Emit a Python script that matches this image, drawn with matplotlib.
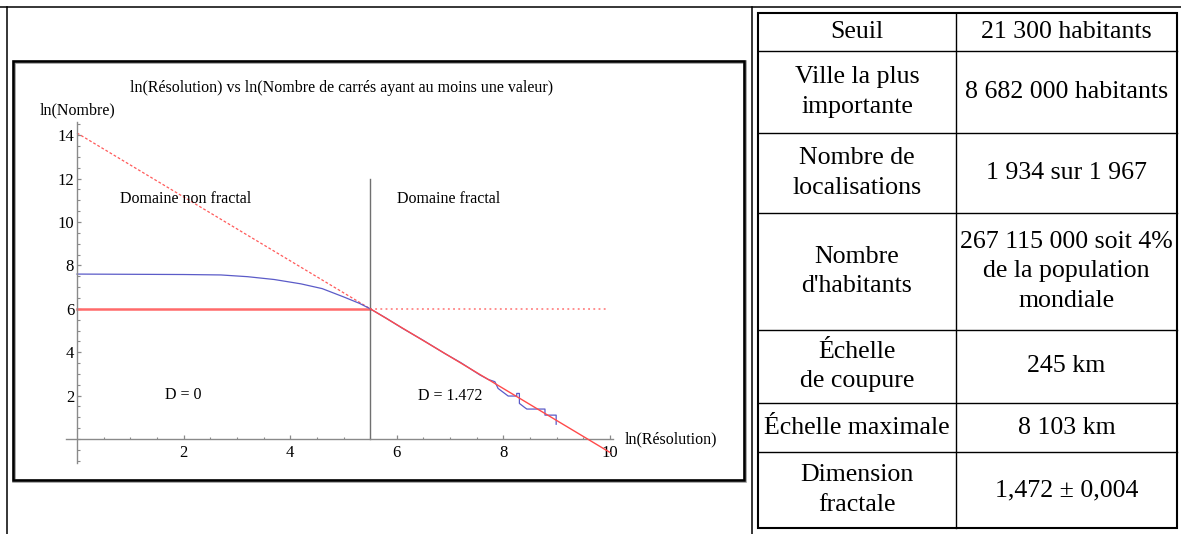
"""Box-counting plot (ln resolution vs ln count) with the summary table on the right."""

import matplotlib.pyplot as plt
import numpy as np
from matplotlib.patches import Rectangle

plt.rcParams["font.family"] = ["Liberation Serif", "DejaVu Serif"]

W, H = 1181, 534

# measured curve: ln(resolution) -> ln(number of occupied squares)
LN_RES = [0.0, 1.0, 2.0, 2.7, 3.2, 3.7, 4.2, 4.6, 5.0, 5.3, 5.5,
          5.8, 6.1, 6.5, 6.9, 7.2, 7.56, 7.72, 7.84, 7.9, 8.09,
          8.25, 8.25, 8.30, 8.30, 8.40, 8.44, 8.78, 8.78, 8.99, 8.99]
LN_COUNT = [7.60, 7.59, 7.58, 7.56, 7.48, 7.35, 7.15, 6.93, 6.55, 6.25, 6.00,
            5.57, 5.11, 4.54, 3.94, 3.52, 2.95, 2.74, 2.64, 2.33, 1.98,
            1.98, 2.10, 2.10, 1.64, 1.45, 1.38, 1.38, 1.10, 1.10, 0.68]

FIT_INTERCEPT = 14.1
FIT_SLOPE = 1.472
CUT_LN = 5.5        # ln(245 km)
END_LN = 10.0
PLATEAU_END = 9.96

ANNOTATIONS = [
    ("Domaine non fractal", 2.03, 11.06),
    ("Domaine fractal", 6.98, 11.06),
    ("D = 0", 2.0, 2.03),
    ("D = 1.472", 7.0, 2.0),
]

TABLE_LEFT = ["Seuil", "Ville la plus\nimportante", "Nombre de\nlocalisations",
              "Nombre\nd'habitants", "Échelle\nde coupure", "Échelle maximale",
              "Dimension\nfractale"]
TABLE_RIGHT = ["21 300 habitants", "8 682 000 habitants", "1 934 sur 1 967",
               "267 115 000 soit 4%\nde la population\nmondiale", "245 km",
               "8 103 km", "1,472 ± 0,004"]

# layout (pixels)
ROW_EDGES = [13, 51, 133, 213, 330, 403, 452, 528]
COL_EDGES = [758, 956, 1177]
X0_PX, X_SCALE = 77.0, 53.3
Y0_PX, Y_SCALE = 439.0, 21.7
XLIM = (-0.25, 10.2)
YLIM = (-1.2, 14.7)


def fit(x):
    return FIT_INTERCEPT - FIT_SLOPE * np.asarray(x, dtype=float)


fig = plt.figure(figsize=(W / 100, H / 100), dpi=100)
canvas = fig.add_axes([0, 0, 1, 1])
canvas.set_xlim(0, W)
canvas.set_ylim(H, 0)
canvas.set_axis_off()

# page lines
lw_page = 1.1
canvas.plot([0, W], [7, 7], color="black", lw=lw_page)
canvas.plot([6.5, 6.5], [7, H], color="black", lw=lw_page)
canvas.plot([752, 752], [7, H], color="black", lw=lw_page)

# chart frame
canvas.add_patch(Rectangle((14, 62), 731, 419, fill=False, edgecolor="#999999", lw=2.6))
canvas.add_patch(Rectangle((13, 61), 731, 419, fill=False, edgecolor="black", lw=1.8))

# table
canvas.add_patch(Rectangle((COL_EDGES[0], ROW_EDGES[0]), COL_EDGES[-1] - COL_EDGES[0],
                           ROW_EDGES[-1] - ROW_EDGES[0], fill=False,
                           edgecolor="black", lw=1.5))
for y in ROW_EDGES[1:-1]:
    canvas.plot([COL_EDGES[0], COL_EDGES[-1]], [y, y], color="black", lw=1.0)
canvas.plot([COL_EDGES[1]] * 2, [ROW_EDGES[0], ROW_EDGES[-1]], color="black", lw=1.0)
for i, (left, right) in enumerate(zip(TABLE_LEFT, TABLE_RIGHT)):
    yc = (ROW_EDGES[i] + ROW_EDGES[i + 1]) / 2
    for text, (a, b) in ((left, COL_EDGES[:2]), (right, COL_EDGES[1:])):
        canvas.text((a + b) / 2, yc, text, ha="center", va="center",
                    fontsize=18.6, linespacing=1.45, multialignment="center")

# chart axes placed so that data units land on the measured pixels
left = X0_PX + XLIM[0] * X_SCALE
right = X0_PX + XLIM[1] * X_SCALE
top = Y0_PX - YLIM[1] * Y_SCALE
bottom = Y0_PX - YLIM[0] * Y_SCALE
ax = fig.add_axes([left / W, 1 - bottom / H, (right - left) / W, (bottom - top) / H])
ax.set_xlim(*XLIM)
ax.set_ylim(*YLIM)
ax.patch.set_alpha(0)

gray = "#8a8a8a"
for side in ("top", "right"):
    ax.spines[side].set_visible(False)
ax.spines["left"].set_position(("data", 0))
ax.spines["bottom"].set_position(("data", 0))
ax.spines["left"].set_bounds(-1.1, 14.6)
ax.spines["bottom"].set_bounds(-0.2, 10.05)
for side in ("left", "bottom"):
    ax.spines[side].set_color(gray)
    ax.spines[side].set_linewidth(1.0)

ax.set_xticks([2, 4, 6, 8, 10])
ax.set_xticks(np.arange(0.5, 10.01, 0.5), minor=True)
ax.set_yticks([2, 4, 6, 8, 10, 12, 14])
ax.set_yticks(np.arange(-1, 14.51, 0.5), minor=True)
ax.tick_params(which="both", direction="in", color=gray, labelsize=12)
ax.tick_params(which="major", length=3.2, width=0.9)
ax.tick_params(which="minor", length=1.8, width=0.8)
ax.tick_params(axis="x", pad=4)
ax.tick_params(axis="y", pad=2)

# fit lines
xs_left = np.array([0, CUT_LN])
xs_right = np.array([CUT_LN, END_LN])
plateau = fit(CUT_LN)
ax.plot(xs_left, fit(xs_left), color="#ff5a5a", lw=0.9, dashes=(2.2, 1.6))
ax.plot([0, CUT_LN], [plateau, plateau], color="#ff6a6a", lw=1.8)
ax.plot([CUT_LN, PLATEAU_END], [plateau, plateau], color="#ff7070", lw=1.1, dashes=(1.2, 2.2))
ax.plot([CUT_LN, CUT_LN], [0, 12], color="#707070", lw=1.0)
ax.plot(LN_RES, LN_COUNT, color="#5b5bc8", lw=0.9)
ax.plot(xs_right, fit(xs_right), color="#ff4a4a", lw=1.0, zorder=3)

for text, x, y in ANNOTATIONS:
    ax.text(x, y, text, ha="center", va="center", fontsize=11.5)

ax.text(10.28, 0, "ln(Résolution)", ha="left", va="center", fontsize=11.5, clip_on=False)
ax.text(0, 15.16, "ln(Nombre)", ha="center", va="center", fontsize=11.5, clip_on=False)
fig.text(342 / W, 1 - 88 / H,
         "ln(Résolution) vs ln(Nombre de carrés ayant au moins une valeur)",
         ha="center", va="center", fontsize=11.5)

fig.savefig("out.png", dpi=100, facecolor="white")
plt.close(fig)
